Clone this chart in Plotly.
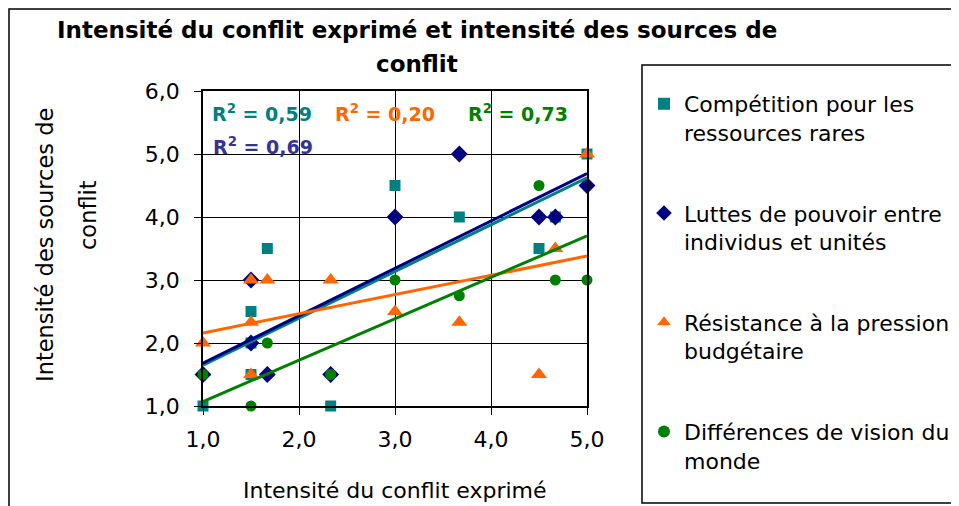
import plotly.graph_objects as go

# ---- data ----
series_names = [
    "Compétition pour les<br>ressources rares",
    "Luttes de pouvoir entre<br>individus et unités",
    "Résistance à la pression<br>budgétaire",
    "Différences de vision du<br>monde",
]
comp_x = [1.0, 1.5, 1.5, 1.5, 1.67, 2.33, 3.0, 3.67, 4.5, 4.67, 5.0]
comp_y = [1.0, 2.5, 2.0, 1.5, 3.5, 1.0, 4.5, 4.0, 3.5, 4.0, 5.0]
lutt_x = [1.0, 1.5, 1.5, 1.67, 2.33, 3.0, 3.67, 4.5, 4.67, 5.0]
lutt_y = [1.5, 3.0, 2.0, 1.5, 1.5, 4.0, 5.0, 4.0, 4.0, 4.5]
resi_x = [1.0, 1.5, 1.5, 1.5, 1.67, 2.33, 3.0, 3.67, 4.5, 4.67, 5.0]
resi_y = [2.0, 3.0, 2.33, 1.5, 3.0, 3.0, 2.5, 2.33, 1.5, 3.5, 5.0]
diff_x = [1.0, 1.5, 1.67, 2.33, 3.0, 3.67, 4.5, 4.67, 5.0]
diff_y = [1.5, 1.0, 2.0, 1.5, 3.0, 2.75, 4.5, 3.0, 3.0]

# linear trendlines (value at x=1 and x=5)
trend_x = [1.0, 5.0]
trend_comp = [1.65, 4.62]
trend_lutt = [1.68, 4.69]
trend_resi = [2.16, 3.38]
trend_diff = [1.07, 3.70]

r2_labels = ["0,59", "0,69", "0,20", "0,73"]

title_lines = ["Intensité du conflit exprimé et intensité des sources de", "conflit"]
x_title = "Intensité du conflit exprimé"
y_title_lines = ["Intensité des sources de", "conflit"]

colors = ["#008080", "#000080", "#FF6600", "#008000"]
symbols = ["square", "diamond", "triangle-up", "circle"]
FONT = "DejaVu Sans"

# page body has an 8px margin; work in screen pixels and compensate
OFF = 8
W, H = 959 - OFF, 506 - OFF
PLOT_L, PLOT_R, PLOT_T, PLOT_B = 203, 587, 91, 406   # screen pixels
L = PLOT_L - OFF
T = PLOT_T - OFF
PW = PLOT_R - PLOT_L
PH = PLOT_B - PLOT_T
R = W - L - PW
B = H - T - PH


def px(xs):
    return (xs - PLOT_L) / PW


def py(ys):
    return (PLOT_B - ys) / PH


fig = go.Figure()

xs = [comp_x, lutt_x, resi_x, diff_x]
ys = [comp_y, lutt_y, resi_y, diff_y]
sizes = [11, 13, 14, 11]
for i in range(4):
    fig.add_trace(go.Scatter(
        x=xs[i], y=ys[i], mode="markers", name=series_names[i],
        legendgroup=f"g{i}",
        marker=dict(symbol=symbols[i], color=colors[i], size=sizes[i], line=dict(width=0)),
        cliponaxis=False,
    ))

for i, tr in enumerate([trend_comp, trend_lutt, trend_resi, trend_diff]):
    fig.add_trace(go.Scatter(
        x=trend_x, y=tr, mode="lines", showlegend=False,
        line=dict(color=colors[i], width=3), hoverinfo="skip",
    ))

axis_common = dict(
    showgrid=True, gridcolor="#000000", gridwidth=1,
    showline=True, linecolor="#000000", linewidth=1.5, mirror=True,
    ticks="outside", ticklen=7, tickcolor="#000000", tickwidth=1,
    tickformat=".1f", zeroline=False,
    tickfont=dict(family=FONT, size=22, color="#000000"),
)
fig.update_xaxes(range=[1, 5], tickvals=[1, 2, 3, 4, 5], ticklabelstandoff=6, **axis_common)
fig.update_yaxes(range=[1, 6], tickvals=[1, 2, 3, 4, 5, 6], ticklabelstandoff=10, **axis_common)

ann = []
ann.append(dict(text="<b>" + title_lines[0] + "</b>", x=px(417), y=py(30)))
ann.append(dict(text="<b>" + title_lines[1] + "</b>", x=px(417), y=py(64)))
for a in ann:
    a.update(xref="paper", yref="paper", showarrow=False, xanchor="center", yanchor="middle",
             font=dict(family=FONT, size=23, color="#000000"))

ann.append(dict(text=x_title, x=px(395), y=py(490), xref="paper", yref="paper", showarrow=False,
                xanchor="center", yanchor="middle", font=dict(family=FONT, size=22, color="#000000")))
ann.append(dict(text=y_title_lines[0], x=px(45), y=py(245), xref="paper", yref="paper", showarrow=False,
                textangle=-90, xanchor="center", yanchor="middle",
                font=dict(family=FONT, size=22.5, color="#000000")))
ann.append(dict(text=y_title_lines[1], x=px(88), y=py(215), xref="paper", yref="paper", showarrow=False,
                textangle=-90, xanchor="center", yanchor="middle",
                font=dict(family=FONT, size=22.5, color="#000000")))

r2_pos = [(261.5, 113), (262.5, 146), (384.5, 113), (517.5, 113)]
r2_colors = ["#008080", "#333399", "#FF6600", "#008000"]
for i in range(4):
    ann.append(dict(text="<b>R<sup>2</sup> = " + r2_labels[i] + "</b>",
                    x=px(r2_pos[i][0]), y=py(r2_pos[i][1]), xref="paper", yref="paper",
                    showarrow=False, xanchor="center", yanchor="middle",
                    font=dict(family=FONT, size=19, color=r2_colors[i])))

shapes = [
    # outer chart border
    dict(type="rect", xref="paper", yref="paper", x0=px(9), x1=px(990), y0=py(530), y1=py(9),
         line=dict(color="#000000", width=1.5), fillcolor="rgba(0,0,0,0)", layer="below"),
    # legend box
    dict(type="rect", xref="paper", yref="paper", x0=px(642), x1=px(985), y0=py(503), y1=py(65),
         line=dict(color="#000000", width=1.5), fillcolor="rgba(0,0,0,0)", layer="below"),
]

fig.update_layout(
    width=W, height=H,
    margin=dict(l=L, r=R, t=T, b=B, autoexpand=False),
    paper_bgcolor="white", plot_bgcolor="white",
    separators=", ",
    showlegend=True,
    legend=dict(x=px(644), y=py(83), xanchor="left", yanchor="top",
                bgcolor="rgba(0,0,0,0)", borderwidth=0,
                font=dict(family=FONT, size=22, color="#000000"),
                tracegroupgap=49, valign="top", itemsizing="constant",
                maxheight=2000),
    annotations=ann,
    shapes=shapes,
)

fig.write_html("out.html")
